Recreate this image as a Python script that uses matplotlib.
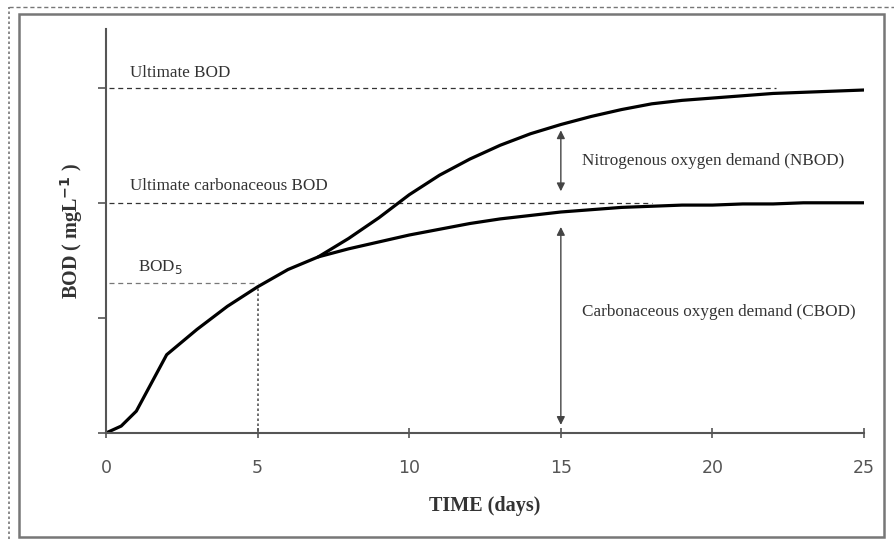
import matplotlib
matplotlib.use("Agg")
import matplotlib.pyplot as plt
from matplotlib.patches import Rectangle
from matplotlib.lines import Line2D

# carbonaceous BOD curve (lower)
cbod_days = [0, 0.5, 1, 2, 3, 4, 5, 6, 7, 8, 9, 10, 11, 12, 13, 14, 15, 16,
             17, 18, 19, 20, 21, 22, 23, 24, 25]
cbod_vals = [0, 0.06, 0.19, 0.68, 0.90, 1.10, 1.27, 1.42, 1.53, 1.60, 1.66,
             1.72, 1.77, 1.82, 1.86, 1.89, 1.92, 1.94, 1.96, 1.97, 1.98,
             1.98, 1.99, 1.99, 2.0, 2.0, 2.0]

# total BOD curve (carbonaceous + nitrogenous), branches off near day 7
total_days = [7, 8, 9, 10, 11, 12, 13, 14, 15, 16, 17, 18, 19, 20, 21, 22,
              23, 24, 25]
total_vals = [1.53, 1.69, 1.87, 2.07, 2.24, 2.38, 2.50, 2.60, 2.68, 2.75,
              2.81, 2.86, 2.89, 2.91, 2.93, 2.95, 2.96, 2.97, 2.98]

ULT_BOD = 3.0
ULT_CBOD = 2.0
BOD5 = 1.30
x_ticks = [0, 5, 10, 15, 20, 25]
y_ticks = [0, 1, 2, 3]

SERIF = "Liberation Serif"
TXT = "#333333"
AX = "#555555"
FS = 12.3

fig = plt.figure(figsize=(8.94, 5.39), dpi=100)
ax = fig.add_axes([0.1186, 0.1967, 0.8479, 0.7495])

# frame around the whole figure
fig.patches.append(Rectangle((0.021, 0.004), 0.968, 0.970, transform=fig.transFigure,
                             fill=False, ec="#777777", lw=1.8))
fig.lines.append(Line2D([0.010, 0.010], [0.0, 0.987], transform=fig.transFigure,
                        color="#777777", lw=1.2, ls=(0, (1.5, 1.5))))
fig.lines.append(Line2D([0.010, 1.0], [0.987, 0.987], transform=fig.transFigure,
                        color="#777777", lw=1.0, ls=(0, (3, 2))))

# reference dashed lines
ax.plot([0.1, 22.1], [ULT_BOD, ULT_BOD], color="#333333", lw=0.9, ls=(0, (4, 3)))
ax.plot([0.1, 18.0], [ULT_CBOD, ULT_CBOD], color="#333333", lw=0.9, ls=(0, (4, 3)))
ax.plot([0.1, 5.0], [BOD5, BOD5], color="#777777", lw=0.9, ls=(0, (4, 3)))
ax.plot([5.0, 5.0], [0.02, 1.27], color="#555555", lw=1.2, ls=(0, (1.5, 1.5)))

# curves
ax.plot(cbod_days, cbod_vals, color="black", lw=2.3, solid_capstyle="round",
        solid_joinstyle="round")
ax.plot(total_days, total_vals, color="black", lw=2.3, solid_capstyle="round",
        solid_joinstyle="round")

# arrows
arrow = dict(arrowstyle="<|-|>", color="#444444", lw=1.0, mutation_scale=12,
             shrinkA=0, shrinkB=0)
ax.annotate("", xy=(15, 2.10), xytext=(15, 2.63), arrowprops=arrow)
ax.annotate("", xy=(15, 0.07), xytext=(15, 1.79), arrowprops=arrow)

# labels
ax.text(0.8, 3.13, "Ultimate BOD", family=SERIF, fontsize=FS, color=TXT,
        va="center")
ax.text(0.8, 2.15, "Ultimate carbonaceous BOD", family=SERIF, fontsize=FS,
        color=TXT, va="center")
ax.text(1.05, 1.44, "BOD$_5$", family=SERIF, fontsize=FS, color=TXT,
        va="center")
ax.text(15.7, 2.36, "Nitrogenous oxygen demand (NBOD)", family=SERIF,
        fontsize=FS, color=TXT, va="center")
ax.text(15.7, 1.05, "Carbonaceous oxygen demand (CBOD)", family=SERIF,
        fontsize=FS, color=TXT, va="center")

ax.set_xlim(0, 25)
ax.set_ylim(0, 3.51)
ax.set_xticks(x_ticks)
ax.set_yticks(y_ticks)
ax.set_yticklabels([])
ax.tick_params(axis="x", direction="inout", length=7, color=AX, width=1.2,
               labelsize=12.5, labelcolor="#555555", pad=15)
ax.tick_params(axis="y", direction="out", length=6, color=AX, width=1.2)
for s in ("top", "right"):
    ax.spines[s].set_visible(False)
for s in ("left", "bottom"):
    ax.spines[s].set_color(AX)
    ax.spines[s].set_linewidth(1.5)
ax.spines["bottom"].set_bounds(0, 25)

ax.set_xlabel("TIME (days)", family=SERIF, fontweight="bold", fontsize=14.5,
              color=TXT, labelpad=14)
ax.set_ylabel("BOD ( mgL$^{\\mathbf{-1}}$ )", family=SERIF, fontweight="bold",
              fontsize=14.5, color=TXT, labelpad=6)

fig.savefig("out.png", dpi=100, facecolor="white")
